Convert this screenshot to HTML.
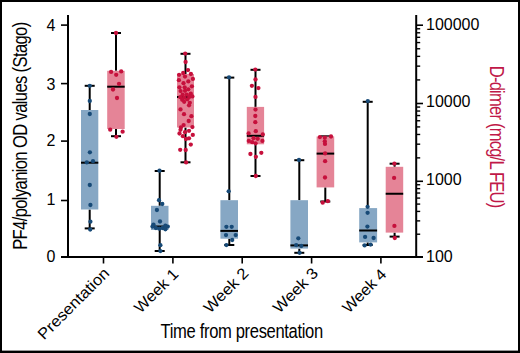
<!DOCTYPE html>
<html><head><meta charset="utf-8"><style>
html,body{margin:0;padding:0;background:#fff;}
svg{display:block;}
text{font-family:"Liberation Sans",sans-serif;}
.t{font-size:16px;fill:#000;}
.c{font-size:15.6px;fill:#000;}
.a{font-size:19.3px;}
</style></head><body>
<svg width="520" height="353" viewBox="0 0 520 353">
<rect x="0" y="0" width="520" height="353" fill="#000"/>
<rect x="2" y="2" width="516" height="348.6" fill="#fff"/>
<line x1="89.7" y1="85.8" x2="89.7" y2="110.0" stroke="#000" stroke-width="2.0"/>
<line x1="89.7" y1="209.5" x2="89.7" y2="228.4" stroke="#000" stroke-width="2.0"/>
<line x1="84.7" y1="85.8" x2="94.7" y2="85.8" stroke="#000" stroke-width="2.0"/>
<line x1="84.7" y1="228.4" x2="94.7" y2="228.4" stroke="#000" stroke-width="2.0"/>
<rect x="81.0" y="110.0" width="17.30" height="99.50" fill="#86a7c4"/>
<line x1="81.0" y1="162.7" x2="98.3" y2="162.7" stroke="#000" stroke-width="2.0"/>
<line x1="116.0" y1="33.0" x2="116.0" y2="70.8" stroke="#000" stroke-width="2.0"/>
<line x1="116.0" y1="129.0" x2="116.0" y2="136.2" stroke="#000" stroke-width="2.0"/>
<line x1="111.0" y1="33.0" x2="121.0" y2="33.0" stroke="#000" stroke-width="2.0"/>
<line x1="111.0" y1="136.2" x2="121.0" y2="136.2" stroke="#000" stroke-width="2.0"/>
<rect x="107.2" y="70.8" width="17.50" height="58.20" fill="#e58497"/>
<line x1="107.2" y1="86.7" x2="124.7" y2="86.7" stroke="#000" stroke-width="2.0"/>
<line x1="159.7" y1="171.0" x2="159.7" y2="205.8" stroke="#000" stroke-width="2.0"/>
<line x1="159.7" y1="230.0" x2="159.7" y2="251.0" stroke="#000" stroke-width="2.0"/>
<line x1="154.7" y1="171.0" x2="164.7" y2="171.0" stroke="#000" stroke-width="2.0"/>
<line x1="154.7" y1="251.0" x2="164.7" y2="251.0" stroke="#000" stroke-width="2.0"/>
<rect x="151.0" y="205.8" width="17.50" height="24.20" fill="#86a7c4"/>
<line x1="151.0" y1="226.5" x2="168.5" y2="226.5" stroke="#000" stroke-width="2.0"/>
<line x1="185.5" y1="53.8" x2="185.5" y2="74.0" stroke="#000" stroke-width="2.0"/>
<line x1="185.5" y1="127.5" x2="185.5" y2="162.3" stroke="#000" stroke-width="2.0"/>
<line x1="180.5" y1="53.8" x2="190.5" y2="53.8" stroke="#000" stroke-width="2.0"/>
<line x1="180.5" y1="162.3" x2="190.5" y2="162.3" stroke="#000" stroke-width="2.0"/>
<rect x="177.0" y="74.0" width="17.00" height="53.50" fill="#e58497"/>
<line x1="177.0" y1="97.0" x2="194.0" y2="97.0" stroke="#000" stroke-width="2.0"/>
<line x1="229.3" y1="77.6" x2="229.3" y2="200.2" stroke="#000" stroke-width="2.0"/>
<line x1="229.3" y1="238.7" x2="229.3" y2="245.0" stroke="#000" stroke-width="2.0"/>
<line x1="224.3" y1="77.6" x2="234.3" y2="77.6" stroke="#000" stroke-width="2.0"/>
<line x1="224.3" y1="245.0" x2="234.3" y2="245.0" stroke="#000" stroke-width="2.0"/>
<rect x="220.4" y="200.2" width="17.60" height="38.50" fill="#86a7c4"/>
<line x1="220.4" y1="230.9" x2="238.0" y2="230.9" stroke="#000" stroke-width="2.0"/>
<line x1="255.5" y1="69.8" x2="255.5" y2="106.9" stroke="#000" stroke-width="2.0"/>
<line x1="255.5" y1="144.3" x2="255.5" y2="176.0" stroke="#000" stroke-width="2.0"/>
<line x1="250.5" y1="69.8" x2="260.5" y2="69.8" stroke="#000" stroke-width="2.0"/>
<line x1="250.5" y1="176.0" x2="260.5" y2="176.0" stroke="#000" stroke-width="2.0"/>
<rect x="246.8" y="106.9" width="17.30" height="37.40" fill="#e58497"/>
<line x1="246.8" y1="135.8" x2="264.1" y2="135.8" stroke="#000" stroke-width="2.0"/>
<line x1="299.3" y1="160.2" x2="299.3" y2="200.2" stroke="#000" stroke-width="2.0"/>
<line x1="299.3" y1="248.6" x2="299.3" y2="252.8" stroke="#000" stroke-width="2.0"/>
<line x1="294.3" y1="160.2" x2="304.3" y2="160.2" stroke="#000" stroke-width="2.0"/>
<line x1="294.3" y1="252.8" x2="304.3" y2="252.8" stroke="#000" stroke-width="2.0"/>
<rect x="290.4" y="200.2" width="17.60" height="48.40" fill="#86a7c4"/>
<line x1="290.4" y1="245.4" x2="308.0" y2="245.4" stroke="#000" stroke-width="2.0"/>
<line x1="325.3" y1="136.3" x2="325.3" y2="136.5" stroke="#000" stroke-width="2.0"/>
<line x1="325.3" y1="187.4" x2="325.3" y2="201.5" stroke="#000" stroke-width="2.0"/>
<line x1="320.3" y1="136.3" x2="330.3" y2="136.3" stroke="#000" stroke-width="2.0"/>
<line x1="320.3" y1="201.5" x2="330.3" y2="201.5" stroke="#000" stroke-width="2.0"/>
<rect x="316.6" y="136.5" width="17.60" height="50.90" fill="#e58497"/>
<line x1="316.6" y1="153.6" x2="334.2" y2="153.6" stroke="#000" stroke-width="2.0"/>
<line x1="367.7" y1="101.8" x2="367.7" y2="208.1" stroke="#000" stroke-width="2.0"/>
<line x1="367.7" y1="242.4" x2="367.7" y2="245.0" stroke="#000" stroke-width="2.0"/>
<line x1="362.7" y1="101.8" x2="372.7" y2="101.8" stroke="#000" stroke-width="2.0"/>
<line x1="362.7" y1="245.0" x2="372.7" y2="245.0" stroke="#000" stroke-width="2.0"/>
<rect x="359.2" y="208.1" width="17.90" height="34.30" fill="#86a7c4"/>
<line x1="359.2" y1="230.5" x2="377.1" y2="230.5" stroke="#000" stroke-width="2.0"/>
<line x1="394.6" y1="163.7" x2="394.6" y2="166.8" stroke="#000" stroke-width="2.0"/>
<line x1="394.6" y1="232.6" x2="394.6" y2="236.6" stroke="#000" stroke-width="2.0"/>
<line x1="389.6" y1="163.7" x2="399.6" y2="163.7" stroke="#000" stroke-width="2.0"/>
<line x1="389.6" y1="236.6" x2="399.6" y2="236.6" stroke="#000" stroke-width="2.0"/>
<rect x="385.7" y="166.8" width="17.50" height="65.80" fill="#e58497"/>
<line x1="385.7" y1="193.75" x2="403.2" y2="193.75" stroke="#000" stroke-width="2.0"/>
<circle cx="89.8" cy="85.8" r="2.15" fill="#174a77"/>
<circle cx="89.8" cy="101" r="2.15" fill="#174a77"/>
<circle cx="89.8" cy="114" r="2.15" fill="#174a77"/>
<circle cx="89.9" cy="152.3" r="2.15" fill="#174a77"/>
<circle cx="86.8" cy="162.4" r="2.15" fill="#174a77"/>
<circle cx="93" cy="161.2" r="2.15" fill="#174a77"/>
<circle cx="89.8" cy="185" r="2.15" fill="#174a77"/>
<circle cx="90.4" cy="205" r="2.15" fill="#174a77"/>
<circle cx="90.4" cy="221.7" r="2.15" fill="#174a77"/>
<circle cx="90.2" cy="229.5" r="2.15" fill="#174a77"/>
<circle cx="116" cy="33" r="2.15" fill="#c6103c"/>
<circle cx="111.1" cy="71.9" r="2.15" fill="#c6103c"/>
<circle cx="116.2" cy="74.8" r="2.15" fill="#c6103c"/>
<circle cx="121.2" cy="71.4" r="2.15" fill="#c6103c"/>
<circle cx="119" cy="83.8" r="2.15" fill="#c6103c"/>
<circle cx="113" cy="89.5" r="2.15" fill="#c6103c"/>
<circle cx="117" cy="98" r="2.15" fill="#c6103c"/>
<circle cx="110.2" cy="129.7" r="2.15" fill="#c6103c"/>
<circle cx="122.6" cy="131.7" r="2.15" fill="#c6103c"/>
<circle cx="116.4" cy="136.8" r="2.15" fill="#c6103c"/>
<circle cx="159.5" cy="170.7" r="2.15" fill="#174a77"/>
<circle cx="159" cy="200.2" r="2.15" fill="#174a77"/>
<circle cx="162.3" cy="204" r="2.15" fill="#174a77"/>
<circle cx="156.9" cy="210" r="2.15" fill="#174a77"/>
<circle cx="160" cy="221.5" r="2.15" fill="#174a77"/>
<circle cx="153.5" cy="224.6" r="2.15" fill="#174a77"/>
<circle cx="152.5" cy="226.6" r="2.15" fill="#174a77"/>
<circle cx="155.9" cy="228" r="2.15" fill="#174a77"/>
<circle cx="159.3" cy="228.7" r="2.15" fill="#174a77"/>
<circle cx="162.7" cy="228" r="2.15" fill="#174a77"/>
<circle cx="165.4" cy="229.3" r="2.15" fill="#174a77"/>
<circle cx="167.8" cy="226.6" r="2.15" fill="#174a77"/>
<circle cx="165.4" cy="225.6" r="2.15" fill="#174a77"/>
<circle cx="160.4" cy="245.2" r="2.15" fill="#174a77"/>
<circle cx="160.4" cy="251.1" r="2.15" fill="#174a77"/>
<circle cx="185.2" cy="53.6" r="2.15" fill="#c6103c"/>
<circle cx="185.6" cy="62" r="2.15" fill="#c6103c"/>
<circle cx="188" cy="70.1" r="2.15" fill="#c6103c"/>
<circle cx="183.2" cy="73" r="2.15" fill="#c6103c"/>
<circle cx="190.9" cy="74" r="2.15" fill="#c6103c"/>
<circle cx="179.1" cy="74.8" r="2.15" fill="#c6103c"/>
<circle cx="185" cy="76.6" r="2.15" fill="#c6103c"/>
<circle cx="178.9" cy="80.2" r="2.15" fill="#c6103c"/>
<circle cx="192.9" cy="78.9" r="2.15" fill="#c6103c"/>
<circle cx="188.3" cy="81.4" r="2.15" fill="#c6103c"/>
<circle cx="183.5" cy="83.2" r="2.15" fill="#c6103c"/>
<circle cx="179.4" cy="87.3" r="2.15" fill="#c6103c"/>
<circle cx="184.7" cy="87.3" r="2.15" fill="#c6103c"/>
<circle cx="191.9" cy="86.3" r="2.15" fill="#c6103c"/>
<circle cx="188.3" cy="89.3" r="2.15" fill="#c6103c"/>
<circle cx="180.6" cy="91.1" r="2.15" fill="#c6103c"/>
<circle cx="185" cy="90.8" r="2.15" fill="#c6103c"/>
<circle cx="190.8" cy="93.7" r="2.15" fill="#c6103c"/>
<circle cx="182.7" cy="94.7" r="2.15" fill="#c6103c"/>
<circle cx="186.8" cy="94.7" r="2.15" fill="#c6103c"/>
<circle cx="180.3" cy="97.2" r="2.15" fill="#c6103c"/>
<circle cx="184.2" cy="97.7" r="2.15" fill="#c6103c"/>
<circle cx="189.3" cy="96.9" r="2.15" fill="#c6103c"/>
<circle cx="192.4" cy="96.4" r="2.15" fill="#c6103c"/>
<circle cx="182.2" cy="99.8" r="2.15" fill="#c6103c"/>
<circle cx="187.3" cy="99.3" r="2.15" fill="#c6103c"/>
<circle cx="184.2" cy="101.8" r="2.15" fill="#c6103c"/>
<circle cx="189.8" cy="102.8" r="2.15" fill="#c6103c"/>
<circle cx="189" cy="105.3" r="2.15" fill="#c6103c"/>
<circle cx="180.5" cy="109.4" r="2.15" fill="#c6103c"/>
<circle cx="184" cy="114.2" r="2.15" fill="#c6103c"/>
<circle cx="191.4" cy="116.2" r="2.15" fill="#c6103c"/>
<circle cx="188.7" cy="121" r="2.15" fill="#c6103c"/>
<circle cx="183.6" cy="125.1" r="2.15" fill="#c6103c"/>
<circle cx="192.4" cy="127.1" r="2.15" fill="#c6103c"/>
<circle cx="180.9" cy="127.5" r="2.15" fill="#c6103c"/>
<circle cx="180.5" cy="129.8" r="2.15" fill="#c6103c"/>
<circle cx="189" cy="130.8" r="2.15" fill="#c6103c"/>
<circle cx="185" cy="132.2" r="2.15" fill="#c6103c"/>
<circle cx="179.5" cy="133.5" r="2.15" fill="#c6103c"/>
<circle cx="192.8" cy="134.9" r="2.15" fill="#c6103c"/>
<circle cx="182.9" cy="136.2" r="2.15" fill="#c6103c"/>
<circle cx="186" cy="139" r="2.15" fill="#c6103c"/>
<circle cx="189" cy="138.3" r="2.15" fill="#c6103c"/>
<circle cx="190.8" cy="144.6" r="2.15" fill="#c6103c"/>
<circle cx="180.2" cy="149.8" r="2.15" fill="#c6103c"/>
<circle cx="185.7" cy="150" r="2.15" fill="#c6103c"/>
<circle cx="186.1" cy="162.4" r="2.15" fill="#c6103c"/>
<circle cx="229" cy="77.4" r="2.15" fill="#174a77"/>
<circle cx="228.7" cy="191.3" r="2.15" fill="#174a77"/>
<circle cx="226.4" cy="226.8" r="2.15" fill="#174a77"/>
<circle cx="231.7" cy="226.8" r="2.15" fill="#174a77"/>
<circle cx="226" cy="235.1" r="2.15" fill="#174a77"/>
<circle cx="235.7" cy="235.1" r="2.15" fill="#174a77"/>
<circle cx="232.2" cy="240" r="2.15" fill="#174a77"/>
<circle cx="226.4" cy="245.1" r="2.15" fill="#174a77"/>
<circle cx="255.3" cy="69.6" r="2.15" fill="#c6103c"/>
<circle cx="255.5" cy="79.5" r="2.15" fill="#c6103c"/>
<circle cx="251.9" cy="85.8" r="2.15" fill="#c6103c"/>
<circle cx="258.4" cy="88.1" r="2.15" fill="#c6103c"/>
<circle cx="255.5" cy="96.9" r="2.15" fill="#c6103c"/>
<circle cx="255.5" cy="109.6" r="2.15" fill="#c6103c"/>
<circle cx="255.3" cy="116" r="2.15" fill="#c6103c"/>
<circle cx="255.3" cy="122.2" r="2.15" fill="#c6103c"/>
<circle cx="255.8" cy="131.2" r="2.15" fill="#c6103c"/>
<circle cx="248.6" cy="133.4" r="2.15" fill="#c6103c"/>
<circle cx="262.8" cy="134.4" r="2.15" fill="#c6103c"/>
<circle cx="253.6" cy="138.2" r="2.15" fill="#c6103c"/>
<circle cx="248.8" cy="140.9" r="2.15" fill="#c6103c"/>
<circle cx="257.7" cy="138.8" r="2.15" fill="#c6103c"/>
<circle cx="262.4" cy="140.9" r="2.15" fill="#c6103c"/>
<circle cx="255.6" cy="143.3" r="2.15" fill="#c6103c"/>
<circle cx="252.2" cy="142.2" r="2.15" fill="#c6103c"/>
<circle cx="250.4" cy="154" r="2.15" fill="#c6103c"/>
<circle cx="261.3" cy="152.8" r="2.15" fill="#c6103c"/>
<circle cx="255.9" cy="156.8" r="2.15" fill="#c6103c"/>
<circle cx="255.8" cy="176" r="2.15" fill="#c6103c"/>
<circle cx="299" cy="160" r="2.15" fill="#174a77"/>
<circle cx="298.3" cy="238.3" r="2.15" fill="#174a77"/>
<circle cx="296.2" cy="245.1" r="2.15" fill="#174a77"/>
<circle cx="301.3" cy="246" r="2.15" fill="#174a77"/>
<circle cx="299.6" cy="252.8" r="2.15" fill="#174a77"/>
<circle cx="319.9" cy="137.1" r="2.15" fill="#c6103c"/>
<circle cx="324.8" cy="137.7" r="2.15" fill="#c6103c"/>
<circle cx="331" cy="136.5" r="2.15" fill="#c6103c"/>
<circle cx="324.8" cy="141.3" r="2.15" fill="#c6103c"/>
<circle cx="325" cy="143.9" r="2.15" fill="#c6103c"/>
<circle cx="325.1" cy="153.4" r="2.15" fill="#c6103c"/>
<circle cx="325.1" cy="161.2" r="2.15" fill="#c6103c"/>
<circle cx="325" cy="177.5" r="2.15" fill="#c6103c"/>
<circle cx="322.7" cy="202.7" r="2.15" fill="#c6103c"/>
<circle cx="327.8" cy="201.2" r="2.15" fill="#c6103c"/>
<circle cx="367.8" cy="101.1" r="2.15" fill="#174a77"/>
<circle cx="367.6" cy="206.8" r="2.15" fill="#174a77"/>
<circle cx="367.6" cy="212.8" r="2.15" fill="#174a77"/>
<circle cx="367.4" cy="226.6" r="2.15" fill="#174a77"/>
<circle cx="365.1" cy="236.9" r="2.15" fill="#174a77"/>
<circle cx="373.6" cy="238" r="2.15" fill="#174a77"/>
<circle cx="364.6" cy="245.4" r="2.15" fill="#174a77"/>
<circle cx="370.6" cy="244.6" r="2.15" fill="#174a77"/>
<circle cx="394.4" cy="163.7" r="2.15" fill="#c6103c"/>
<circle cx="394.1" cy="177.9" r="2.15" fill="#c6103c"/>
<circle cx="394.4" cy="225.9" r="2.15" fill="#c6103c"/>
<circle cx="394.8" cy="238" r="2.15" fill="#c6103c"/>
<line x1="68" y1="15" x2="68" y2="257" stroke="#000" stroke-width="2"/>
<line x1="416.2" y1="15" x2="416.2" y2="257" stroke="#000" stroke-width="2"/>
<line x1="61" y1="257" x2="423" y2="257" stroke="#000" stroke-width="2"/>
<line x1="61" y1="25.1" x2="68" y2="25.1" stroke="#000" stroke-width="1.6"/>
<text x="55.5" y="30.80" text-anchor="end" class="t">4</text>
<line x1="61" y1="83.6" x2="68" y2="83.6" stroke="#000" stroke-width="1.6"/>
<text x="55.5" y="90.15" text-anchor="end" class="t">3</text>
<line x1="61" y1="141.1" x2="68" y2="141.1" stroke="#000" stroke-width="1.6"/>
<text x="55.5" y="146.10" text-anchor="end" class="t">2</text>
<line x1="61" y1="200.5" x2="68" y2="200.5" stroke="#000" stroke-width="1.6"/>
<text x="55.5" y="204.85" text-anchor="end" class="t">1</text>
<line x1="61" y1="257" x2="68" y2="257" stroke="#000" stroke-width="1.6"/>
<text x="55.5" y="261.55" text-anchor="end" class="t">0</text>
<line x1="103.5" y1="257" x2="103.5" y2="263.5" stroke="#000" stroke-width="1.6"/>
<line x1="172.9" y1="257" x2="172.9" y2="263.5" stroke="#000" stroke-width="1.6"/>
<line x1="242.2" y1="257" x2="242.2" y2="263.5" stroke="#000" stroke-width="1.6"/>
<line x1="311.6" y1="257" x2="311.6" y2="263.5" stroke="#000" stroke-width="1.6"/>
<line x1="380.9" y1="257" x2="380.9" y2="263.5" stroke="#000" stroke-width="1.6"/>
<line x1="416" y1="25.2" x2="423" y2="25.2" stroke="#000" stroke-width="1.6"/>
<text x="426" y="29.75" class="t">100000</text>
<line x1="416" y1="103.5" x2="423" y2="103.5" stroke="#000" stroke-width="1.6"/>
<text x="426" y="107.30" class="t">10000</text>
<line x1="416" y1="181.3" x2="423" y2="181.3" stroke="#000" stroke-width="1.6"/>
<text x="426" y="184.60" class="t">1000</text>
<line x1="416" y1="257.0" x2="423" y2="257.0" stroke="#000" stroke-width="1.6"/>
<text x="426" y="262.20" class="t">100</text>
<line x1="416" y1="79.93" x2="420.2" y2="79.93" stroke="#000" stroke-width="1.4"/>
<line x1="416" y1="66.14" x2="420.2" y2="66.14" stroke="#000" stroke-width="1.4"/>
<line x1="416" y1="56.36" x2="420.2" y2="56.36" stroke="#000" stroke-width="1.4"/>
<line x1="416" y1="48.77" x2="420.2" y2="48.77" stroke="#000" stroke-width="1.4"/>
<line x1="416" y1="42.57" x2="420.2" y2="42.57" stroke="#000" stroke-width="1.4"/>
<line x1="416" y1="37.33" x2="420.2" y2="37.33" stroke="#000" stroke-width="1.4"/>
<line x1="416" y1="32.79" x2="420.2" y2="32.79" stroke="#000" stroke-width="1.4"/>
<line x1="416" y1="28.78" x2="420.2" y2="28.78" stroke="#000" stroke-width="1.4"/>
<line x1="416" y1="157.88" x2="420.2" y2="157.88" stroke="#000" stroke-width="1.4"/>
<line x1="416" y1="144.18" x2="420.2" y2="144.18" stroke="#000" stroke-width="1.4"/>
<line x1="416" y1="134.46" x2="420.2" y2="134.46" stroke="#000" stroke-width="1.4"/>
<line x1="416" y1="126.92" x2="420.2" y2="126.92" stroke="#000" stroke-width="1.4"/>
<line x1="416" y1="120.76" x2="420.2" y2="120.76" stroke="#000" stroke-width="1.4"/>
<line x1="416" y1="115.55" x2="420.2" y2="115.55" stroke="#000" stroke-width="1.4"/>
<line x1="416" y1="111.04" x2="420.2" y2="111.04" stroke="#000" stroke-width="1.4"/>
<line x1="416" y1="107.06" x2="420.2" y2="107.06" stroke="#000" stroke-width="1.4"/>
<line x1="416" y1="234.21" x2="420.2" y2="234.21" stroke="#000" stroke-width="1.4"/>
<line x1="416" y1="220.88" x2="420.2" y2="220.88" stroke="#000" stroke-width="1.4"/>
<line x1="416" y1="211.42" x2="420.2" y2="211.42" stroke="#000" stroke-width="1.4"/>
<line x1="416" y1="204.09" x2="420.2" y2="204.09" stroke="#000" stroke-width="1.4"/>
<line x1="416" y1="198.09" x2="420.2" y2="198.09" stroke="#000" stroke-width="1.4"/>
<line x1="416" y1="193.03" x2="420.2" y2="193.03" stroke="#000" stroke-width="1.4"/>
<line x1="416" y1="188.64" x2="420.2" y2="188.64" stroke="#000" stroke-width="1.4"/>
<line x1="416" y1="184.76" x2="420.2" y2="184.76" stroke="#000" stroke-width="1.4"/>
<text x="44.11" y="340.38" class="c" textLength="93.52" lengthAdjust="spacingAndGlyphs" transform="rotate(-45 44.11 340.38)">Presentation</text>
<text x="140.63" y="313.96" class="c" textLength="54.81" lengthAdjust="spacingAndGlyphs" transform="rotate(-45 140.63 313.96)">Week 1</text>
<text x="209.98" y="313.96" class="c" textLength="56.12" lengthAdjust="spacingAndGlyphs" transform="rotate(-45 209.98 313.96)">Week 2</text>
<text x="279.33" y="313.96" class="c" textLength="56.16" lengthAdjust="spacingAndGlyphs" transform="rotate(-45 279.33 313.96)">Week 3</text>
<text x="348.69" y="313.96" class="c" textLength="54.76" lengthAdjust="spacingAndGlyphs" transform="rotate(-45 348.69 313.96)">Week 4</text>
<text class="a" transform="translate(160.6 337.5) scale(0.86 1)" textLength="189.07" lengthAdjust="spacing">Time from presentation</text>
<text class="a" transform="translate(27.0 249.8) rotate(-90) scale(0.86 1)" textLength="265.12" lengthAdjust="spacing">PF4/polyanion OD values (Stago)</text>
<text class="a" fill="#c01848" transform="translate(490.0 65.8) rotate(90) scale(0.86 1)" textLength="165.70" lengthAdjust="spacing">D-dimer (mcg/L FEU)</text>
</svg>
</body></html>
